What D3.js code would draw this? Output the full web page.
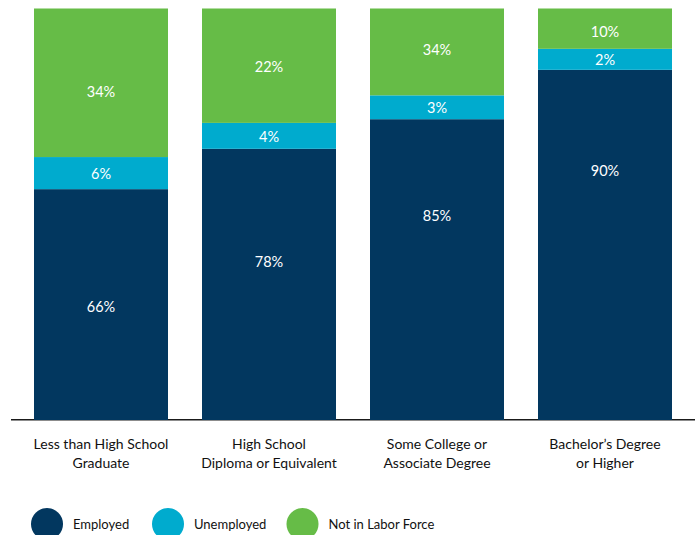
<!DOCTYPE html>
<html>
<head>
<meta charset="utf-8">
<script src="https://cdn.jsdelivr.net/npm/d3@7"></script>
<style>
  body { margin: 0; background: #fff; }
  svg { display: block; font-family: Lato, "Open Sans", sans-serif; }
</style>
</head>
<body>
<div id="chart"></div>
<script>
const categories = [
  ["Less than High School", "Graduate"],
  ["High School", "Diploma or Equivalent"],
  ["Some College or", "Associate Degree"],
  ["Bachelor\u2019s Degree", "or Higher"]
];
const seriesNames = ["Employed", "Unemployed", "Not in Labor Force"];

// segment sizes as drawn (share of bar height)
const employed = [56.1, 65.9, 73.1, 85.1];
const unemployed = [7.8, 6.3, 5.8, 5.1];
const notInLaborForce = [36.1, 27.8, 21.1, 9.8];

// printed labels
const employedLabels = ["66%", "78%", "85%", "90%"];
const unemployedLabels = ["6%", "4%", "3%", "2%"];
const nilfLabels = ["34%", "22%", "34%", "10%"];

const colors = ["#02375f", "#00abce", "#66bc47"];

const width = 695, height = 535;

const svg = d3.select("#chart")
  .append("svg")
    .attr("width", width)
    .attr("height", height);

const x = d3.scaleBand()
  .domain(d3.range(categories.length))
  .range([17, 689])
  .paddingInner(0.2024)
  .paddingOuter(0.1012);

const y = d3.scaleLinear()
  .domain([0, 100])
  .range([420, 8.5]);

const rows = categories.map((c, i) => ({
  i,
  Employed: employed[i],
  Unemployed: unemployed[i],
  "Not in Labor Force": notInLaborForce[i]
}));

const stacked = d3.stack().keys(seriesNames)(rows);
const labels = [employedLabels, unemployedLabels, nilfLabels];

// baseline
svg.append("line")
  .attr("x1", 11).attr("x2", width)
  .attr("y1", 419.8).attr("y2", 419.8)
  .attr("stroke", "#1a1a1a")
  .attr("stroke-width", 1.5);

const layers = svg.append("g")
  .selectAll("g")
  .data(stacked)
  .join("g")
    .attr("fill", (d, k) => colors[k]);

layers.selectAll("rect")
  .data(d => d)
  .join("rect")
    .attr("x", d => x(d.data.i))
    .attr("width", x.bandwidth())
    .attr("y", d => y(d[1]))
    .attr("height", d => y(d[0]) - y(d[1]));

// in the source the employed and green labels are not mid-segment;
// these are the heights (in bar units) where they sit
const labelAt = [
  [27.5, 38.4, 49.6, 60.5],
  null,
  [79.7, 85.8, 89.9, 94.3]
];

layers.selectAll("text")
  .data((d, k) => d.map(p => ({ p, k })))
  .join("text")
    .attr("x", ({ p }) => x(p.data.i) + x.bandwidth() / 2)
    .attr("y", ({ p, k }) => labelAt[k] ? y(labelAt[k][p.data.i]) : y((p[0] + p[1]) / 2) + 1)
    .attr("dy", "0.35em")
    .attr("text-anchor", "middle")
    .attr("fill", "#fff")
    .attr("font-size", 14.5)
    .text(({ p, k }) => labels[k][p.data.i]);

// category labels
const cat = svg.append("g")
  .selectAll("text")
  .data(categories)
  .join("text")
    .attr("x", (d, i) => x(i) + x.bandwidth() / 2)
    .attr("y", 444)
    .attr("text-anchor", "middle")
    .attr("fill", "#111")
    .attr("font-size", 14);

cat.selectAll("tspan")
  .data(d => d)
  .join("tspan")
    .attr("x", function () { return this.parentNode.getAttribute("x"); })
    .attr("dy", (d, j) => j === 0 ? "0.35em" : "19px")
    .text(d => d);

// legend
const legendX = [47, 168, 302.5];
const legend = svg.append("g")
  .selectAll("g")
  .data(seriesNames)
  .join("g")
    .attr("transform", (d, i) => `translate(${legendX[i]},524)`);

legend.append("circle")
  .attr("r", 16)
  .attr("fill", (d, i) => colors[i]);

legend.append("text")
  .attr("x", 26)
  .attr("dy", "0.35em")
  .attr("fill", "#111")
  .attr("font-size", 13)
  .text(d => d);
</script>
</body>
</html>
